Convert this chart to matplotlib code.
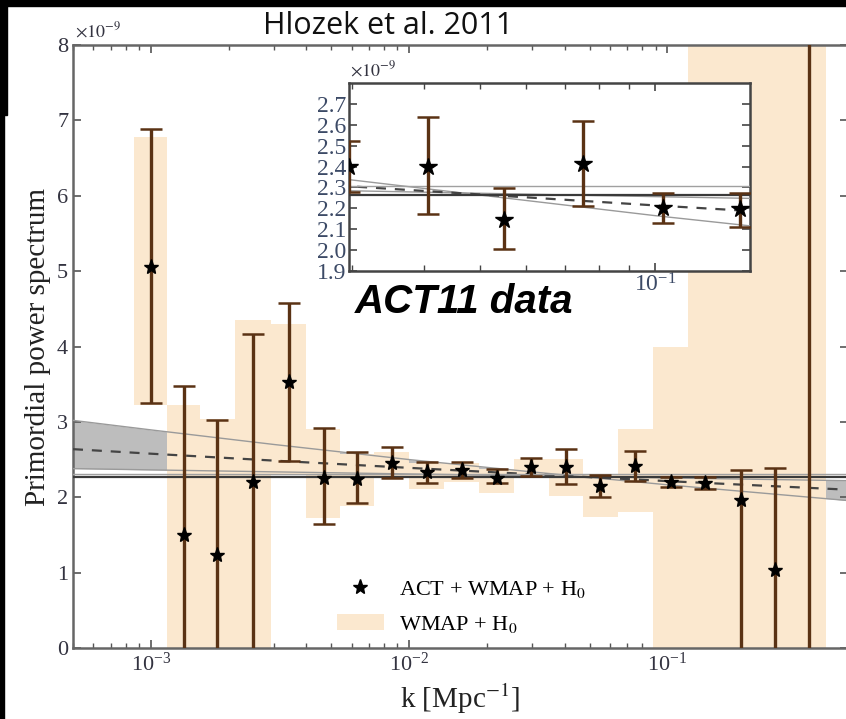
import matplotlib
matplotlib.use('Agg')
import matplotlib.pyplot as plt
import numpy as np
from matplotlib.lines import Line2D
from matplotlib.patches import Patch, Rectangle
from matplotlib.ticker import NullFormatter, FixedLocator

plt.rcParams['font.family'] = ['Liberation Serif', 'DejaVu Serif']
plt.rcParams['mathtext.fontset'] = 'stix'

# bins in k [Mpc^-1], power in units of 1e-9
k_bins = [1.0e-3, 1.34e-3, 1.81e-3, 2.48e-3, 3.42e-3, 4.67e-3, 6.26e-3, 8.55e-3,
          1.17e-2, 1.60e-2, 2.18e-2, 2.97e-2, 4.06e-2, 5.50e-2, 7.52e-2, 1.03e-1,
          1.40e-1, 1.93e-1, 2.62e-1, 3.54e-1]
pk_val = [5.06, 1.50, 1.23, 2.20, 3.53, 2.26, 2.24, 2.46, 2.34, 2.36,
          2.26, 2.40, 2.40, 2.145, 2.41, 2.20, 2.195, 1.97, 1.03, 9.0]
pk_lo = [3.25, -0.5, -0.5, -0.5, 2.48, 1.65, 1.93, 2.26, 2.19, 2.25,
         2.19, 2.28, 2.175, 2.005, 2.21, 2.13, 2.11, -0.5, -0.5, -0.5]
pk_hi = [6.88, 3.48, 3.03, 4.17, 4.58, 2.92, 2.60, 2.67, 2.47, 2.47,
         2.37, 2.52, 2.635, 2.295, 2.62, 2.275, 2.275, 2.36, 2.39, 20.0]

# WMAP+H0 bands
band_lo = [3.22, -1, -1, -1, 2.30, 1.72, 1.89, 2.25, 2.11, 2.20,
           2.06, 2.26, 2.02, 1.74, 1.81, -1, -1, -1, -1, -1]
band_hi = [6.78, 3.22, 3.04, 4.35, 4.30, 2.90, 2.57, 2.60, 2.45, 2.45,
           2.38, 2.51, 2.51, 2.30, 2.90, 4.00, 10, 10, 10, 10]

# power-law model: mean and 1-sigma envelope
model_k = [5e-4, 1e-3, 3e-3, 1e-2, 3e-2, 1e-1, 5e-1]
model_mid = [2.638, 2.578, 2.486, 2.390, 2.305, 2.214, 2.100]
model_a = [3.02, 2.894, 2.70, 2.50, 2.336, 2.165, 1.956]
model_b = [2.38, 2.363, 2.337, 2.309, 2.284, 2.256, 2.22]
flat_lo = 2.265
flat_hi = 2.305

orange = '#fbe8cf'
bar_col = '#5a3214'
cap_col = '#a0703f'

lk = np.log10(k_bins)
mids = (lk[:-1] + lk[1:]) / 2
edges = 10 ** np.concatenate([[2 * lk[0] - mids[0]], mids, [2 * lk[-1] - mids[-1]]])

fig = plt.figure(figsize=(8.46, 7.19), dpi=100)
ax = fig.add_axes([73 / 846, 71 / 719, 775 / 846, 603 / 719])


def draw_models(a, fill=True):
    if fill:
        a.fill_between(model_k, model_a, model_b, color='#bdbdbd', lw=0, zorder=1)
    a.plot(model_k, model_a, color='#9a9a9a', lw=1.0, zorder=3)
    a.plot(model_k, model_b, color='#9a9a9a', lw=1.0, zorder=3)
    a.plot(model_k, model_mid, color='#444444', lw=1.6, dashes=(4.5, 4), zorder=3)
    a.axhline(flat_hi, color='#a0a0a0', lw=1.0, zorder=3)
    a.axhline(flat_lo, color='#3a3a3a', lw=1.6, zorder=3)


def draw_points(a, ms=11, cs=8):
    yerr = [np.array(pk_val) - np.array(pk_lo), np.array(pk_hi) - np.array(pk_val)]
    eb = a.errorbar(k_bins, pk_val, yerr=yerr, fmt='*', color='black', ms=ms,
                    ecolor=bar_col, elinewidth=2.4, capsize=cs, capthick=1.8, zorder=5)
    for c in eb[1]:
        c.set_color(cap_col)


draw_models(ax)
ax.bar(edges[:-1], np.array(band_hi) - np.array(band_lo), width=np.diff(edges),
       bottom=band_lo, align='edge', color=orange, lw=0, zorder=2)
draw_points(ax)

ax.set_xscale('log')
ax.set_xlim(5e-4, 0.5)
ax.set_ylim(0, 8)
ax.set_yticks(range(9))
ax.tick_params(which='both', direction='in', top=True, right=True, color='#555555',
               labelsize=16, labelcolor='#333340')
ax.tick_params(which='major', length=6, width=1.2)
ax.tick_params(which='minor', length=3.5, width=1.0)
for s in ax.spines.values():
    s.set_linewidth(1.8)
    s.set_color('#666666')
ax.set_xlabel('k [Mpc$^{-1}$]', fontsize=21, color='#222222', labelpad=4)
ax.set_ylabel('Primordial power spectrum', fontsize=21, color='#222222', labelpad=4)
fig.text(75 / 846, 1 - 37 / 719, r'$\times10^{-9}$', fontsize=13, color='#333340')

handles = [Line2D([], [], ls='none', marker='*', color='black', ms=11),
           Patch(facecolor=orange, edgecolor='none')]
ax.legend(handles, ['ACT + WMAP + H$_0$', 'WMAP + H$_0$'], loc='upper left',
          bbox_to_anchor=(0.3406, 0.114), frameon=False, fontsize=16,
          handlelength=2.1, handletextpad=0.7, borderpad=0, borderaxespad=0,
          labelspacing=0.6)

# inset zoom on small scales
axin = fig.add_axes([349 / 846, 1 - 271 / 719, 401 / 846, 188 / 719])
axin.set_facecolor('white')
draw_models(axin, fill=False)
draw_points(axin, ms=13, cs=8)
axin.set_xscale('log')
axin.set_xlim(k_bins[11], 0.1457)
axin.set_ylim(1.9, 2.8)
inset_ticks = [1.9, 2.0, 2.1, 2.2, 2.3, 2.4, 2.5, 2.6, 2.7]
axin.set_yticks(inset_ticks)
axin.set_yticklabels(['%.1f' % t for t in inset_ticks])
axin.xaxis.set_major_locator(FixedLocator([0.1]))
axin.xaxis.set_minor_formatter(NullFormatter())
axin.tick_params(which='both', direction='in', top=True, right=True, color='#444444',
                 labelsize=17, labelcolor='#3c4a66', pad=2)
axin.tick_params(which='major', length=6, width=1.2)
axin.tick_params(which='minor', length=4, width=1.0)
for s in axin.spines.values():
    s.set_linewidth(1.8)
    s.set_color('#444444')
fig.text(350 / 846, 1 - 76 / 719, r'$\times10^{-9}$', fontsize=13, color='#333340')

fig.text(355 / 846, 1 - 313 / 719, 'ACT11 data', fontsize=29, family='Liberation Sans',
         weight='bold', style='italic', color='black')
fig.text(263 / 846, 1 - 34 / 719, 'Hlozek et al. 2011', fontsize=22, family='Open Sans',
         color='#111111')

# black frame strips from the slide
fig.patches.append(Rectangle((0, 1 - 6 / 719), 1, 6 / 719, transform=fig.transFigure,
                             color='black', zorder=10))
fig.patches.append(Rectangle((0, 1 - 115 / 719), 7 / 846, 115 / 719,
                             transform=fig.transFigure, color='black', zorder=10))
fig.patches.append(Rectangle((0, 0), 4 / 846, 1, transform=fig.transFigure,
                             color='black', zorder=10))

fig.savefig('out.png', dpi=100)
plt.close(fig)
